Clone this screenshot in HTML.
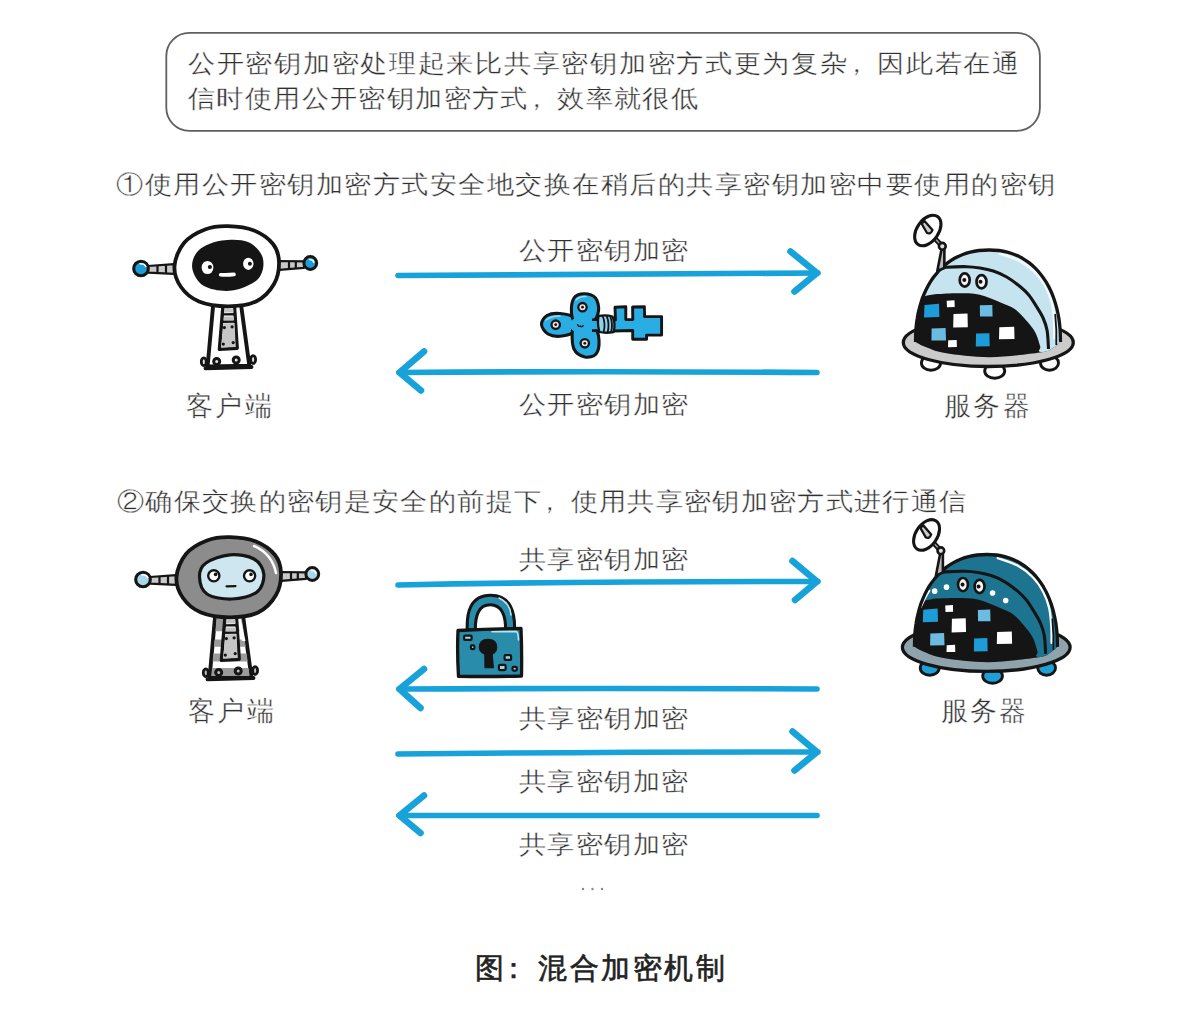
<!DOCTYPE html>
<html><head><meta charset="utf-8">
<style>
html,body{margin:0;padding:0;background:#fff;width:1200px;height:1020px;overflow:hidden;}
body{position:relative;font-family:"Liberation Sans",sans-serif;}
.t{position:absolute;white-space:nowrap;font-size:27px;line-height:27px;letter-spacing:1.4px;color:#303030;-webkit-text-stroke:0.4px #fff;transform:scaleY(0.92);transform-origin:0 0;}
.box{position:absolute;left:165px;top:31.5px;width:872px;height:98.5px;border:1.8px solid #5e5e5e;border-radius:24px;}
svg{position:absolute;left:0;top:0;}
</style></head><body>
<div class="t" style="left:188px;top:52px;letter-spacing:1.72px">公开密钥加密处理起来比共享密钥加密方式更为复杂<span style="position:relative;left:-6px">，</span>因此若在通</div>
<div class="t" style="left:188px;top:87px">信时使用公开密钥加密方式<span style="position:relative;left:-6px">，</span>效率就很低</div>
<div class="t" style="left:116px;top:173px;letter-spacing:1.5px">①使用公开密钥加密方式安全地交换在稍后的共享密钥加密中要使用的密钥</div>
<div class="t" style="left:519px;top:239px">公开密钥加密</div>
<div class="t" style="left:519px;top:393px">公开密钥加密</div>
<div class="t" style="left:186px;top:393px;letter-spacing:2.3px;transform:none">客户端</div>
<div class="t" style="left:944px;top:393px;letter-spacing:2.3px;transform:none">服务器</div>
<div class="t" style="left:117px;top:490px;letter-spacing:1.35px">②确保交换的密钥是安全的前提下<span style="position:relative;left:-6px">，</span>使用共享密钥加密方式进行通信</div>
<div class="t" style="left:519px;top:548px">共享密钥加密</div>
<div class="t" style="left:519px;top:707px">共享密钥加密</div>
<div class="t" style="left:519px;top:770px">共享密钥加密</div>
<div class="t" style="left:519px;top:833px">共享密钥加密</div>
<div class="t" style="left:188px;top:698px;letter-spacing:2.3px;transform:none">客户端</div>
<div class="t" style="left:941px;top:698px;letter-spacing:2.2px;transform:none">服务器</div>
<div class="t" style="left:475px;top:954px;font-size:29px;line-height:29px;font-weight:400;-webkit-text-stroke:0.6px #222;letter-spacing:2.5px;color:#222;transform:none">图<span style="position:relative;left:-8px">：</span>混合加密机制</div>
<svg width="1200" height="1020" viewBox="0 0 1200 1020">
<g fill="none" stroke="#18a2da" stroke-linecap="round" stroke-linejoin="round">
<g stroke-width="5.6">
<path d="M398 275.5 Q600 274 818 273"/>
<path d="M399 372.5 Q600 371 817 372.5"/>
<path d="M398 585 Q600 581 818 581.5"/>
<path d="M399 689 Q600 688 817 689"/>
<path d="M398 754 Q600 752 818 752"/>
<path d="M399 815.5 Q600 816 817 815.5"/>
</g><g stroke-width="6.6">
<path d="M790.5 251.5 L817 273 L794.5 291.5"/>
<path d="M424 351.5 L399.5 372.5 L421 390.5"/>
<path d="M792.5 561 L817 581.5 L795 600"/>
<path d="M424 669 L399.5 689 L420.5 708"/>
<path d="M792.5 731.5 L817 752 L794.5 770.5"/>
<path d="M424 795.5 L399.5 815.5 L420.5 833"/>
</g></g>
<rect x="166.3" y="32.9" width="873.6" height="97.9" rx="23" ry="23" fill="none" stroke="#606060" stroke-width="1.8"/>
<g fill="#888"><circle cx="583" cy="889" r="1.2"/><circle cx="592.5" cy="889" r="1.2"/><circle cx="602" cy="889" r="1.2"/></g>
<g transform="translate(0.00 0.00)">
<ellipse cx="203.8" cy="361.8" rx="2.5" ry="3.9" fill="#e0e0e0" stroke="#151515" stroke-width="2.8"/>
<ellipse cx="253.1" cy="359.6" rx="2.5" ry="3.9" fill="#e0e0e0" stroke="#151515" stroke-width="2.8"/>
<path d="M148.0 266.0 L174.0 264.2 L174.0 273.8 L148.0 272.6Z" fill="#c9c9c9" stroke="#151515" stroke-width="2.2" stroke-linejoin="round"/>
<path d="M157.5 265.3V273 M166 264.8V273.4" stroke="#151515" stroke-width="2.2"/>
<path d="M279.0 261.0 L304.0 261.3 L304.0 267.8 L279.0 269.8Z" fill="#c9c9c9" stroke="#151515" stroke-width="2.2" stroke-linejoin="round"/>
<path d="M289 261.2V269 M295.8 261.3V268.5" stroke="#151515" stroke-width="2.2"/>
<circle cx="141" cy="268.5" r="7.3" fill="#1c9ed8" stroke="#151515" stroke-width="3.1"/>
<path d="M140 263.8 Q144.5 263.5 145.8 266.5" stroke="#fff" stroke-width="1.6" fill="none" stroke-linecap="round"/>
<circle cx="310.3" cy="263" r="6.4" fill="#1c9ed8" stroke="#151515" stroke-width="3"/>
<path d="M309.5 259.6 Q313 259.5 313.8 262.3" stroke="#fff" stroke-width="1.5" fill="none" stroke-linecap="round"/>
<path d="M213.6 300.0 L240.4 300.0 L249.3 365.6 L207.6 366.4Z" fill="#fff" stroke="#151515" stroke-width="3.9" stroke-linejoin="round"/>
<path d="M223.3 302.0 L234.2 302.0 L237.2 348.2 L219.4 349.4Z" fill="#fff" stroke="#151515" stroke-width="3.4" stroke-linejoin="round"/>
<path d="M224.6 308.6 L233.3 308.6 L233.6 312.6 L224.3 312.6Z" fill="#c3c3c3"/>
<path d="M224.1 316.4 L233.8 316.4 L234.1 320.0 L223.8 320.0Z" fill="#c3c3c3"/>
<path d="M222.5 314.4 L235 314.2 M222 321.8 L235.5 321.6" stroke="#151515" stroke-width="2.4"/>
<path d="M223.6 323.2 L234.6 323.0 L235.6 347.0 L221.0 347.6Z" fill="#c6c6c6"/>
<circle cx="224.4" cy="327.6" r="1.6" fill="#151515"/>
<circle cx="232.1" cy="326.8" r="1.6" fill="#151515"/>
<circle cx="223.3" cy="344.1" r="1.6" fill="#151515"/>
<circle cx="233.2" cy="342.6" r="1.6" fill="#151515"/>
<path d="M205.5 368.2 Q228 367.6 251.5 367" stroke="#151515" stroke-width="3.9" stroke-linecap="round" fill="none"/>
<circle cx="216.7" cy="361.4" r="3.0" fill="#e6e6e6" stroke="#151515" stroke-width="3"/>
<circle cx="236.2" cy="360.0" r="3.0" fill="#e6e6e6" stroke="#151515" stroke-width="3"/>
<path d="M174.5 266.0 C175.0 258.7 178.9 249.1 184.0 243.0 C189.1 236.9 197.7 232.3 205.0 229.5 C212.3 226.7 219.8 226.0 228.0 226.2 C236.2 226.4 246.5 227.5 254.0 230.5 C261.5 233.5 268.8 238.8 273.0 244.0 C277.2 249.2 278.8 255.3 279.0 262.0 C279.2 268.7 277.8 277.4 274.0 284.0 C270.2 290.6 263.7 297.8 256.0 301.5 C248.3 305.2 237.5 306.3 228.0 306.3 C218.5 306.3 206.8 304.7 199.0 301.5 C191.2 298.3 185.1 292.9 181.0 287.0 C176.9 281.1 174.0 273.3 174.5 266.0Z" fill="#fff" stroke="#151515" stroke-width="3.8"/>
<path d="M192.2 268.0 C191.4 262.0 194.0 254.6 199.0 250.0 C204.0 245.4 213.8 241.9 222.0 240.6 C230.2 239.3 241.2 239.1 248.0 242.0 C254.8 244.9 261.1 251.8 262.8 258.0 C264.5 264.2 263.1 273.6 258.0 279.0 C252.9 284.4 241.0 289.4 232.0 290.6 C223.0 291.8 210.6 289.8 204.0 286.0 C197.4 282.2 193.0 274.0 192.2 268.0Z" fill="#151515"/>
<ellipse cx="207.5" cy="267.5" rx="5.9" ry="6.6" fill="#fff"/>
<circle cx="209.9" cy="267" r="2.1" fill="#151515"/>
<ellipse cx="248.3" cy="263.8" rx="5.2" ry="6.1" fill="#fff"/>
<circle cx="249.9" cy="263.8" r="2.0" fill="#151515"/>
<path d="M220.6 274.7 Q227 275.2 234 274.4" stroke="#fff" stroke-width="3.6" stroke-linecap="round" fill="none"/>
</g>
<g transform="translate(2.00 311.00)">
<ellipse cx="203.8" cy="361.8" rx="2.5" ry="3.9" fill="#bdbdbd" stroke="#151515" stroke-width="2.8"/>
<ellipse cx="253.1" cy="359.6" rx="2.5" ry="3.9" fill="#bdbdbd" stroke="#151515" stroke-width="2.8"/>
<path d="M148.0 266.0 L174.0 264.2 L174.0 273.8 L148.0 272.6Z" fill="#c9c9c9" stroke="#151515" stroke-width="2.2" stroke-linejoin="round"/>
<path d="M157.5 265.3V273 M166 264.8V273.4" stroke="#151515" stroke-width="2.2"/>
<path d="M279.0 261.0 L304.0 261.3 L304.0 267.8 L279.0 269.8Z" fill="#c9c9c9" stroke="#151515" stroke-width="2.2" stroke-linejoin="round"/>
<path d="M289 261.2V269 M295.8 261.3V268.5" stroke="#151515" stroke-width="2.2"/>
<circle cx="141" cy="268.5" r="7.3" fill="#a9d6ea" stroke="#151515" stroke-width="3.1"/>
<path d="M140 263.8 Q144.5 263.5 145.8 266.5" stroke="#fff" stroke-width="1.6" fill="none" stroke-linecap="round"/>
<circle cx="310.3" cy="263" r="6.4" fill="#a9d6ea" stroke="#151515" stroke-width="3"/>
<path d="M309.5 259.6 Q313 259.5 313.8 262.3" stroke="#fff" stroke-width="1.5" fill="none" stroke-linecap="round"/>
<path d="M213.6 300.0 L240.4 300.0 L249.3 365.6 L207.6 366.4Z" fill="#fff" stroke="#151515" stroke-width="3.9" stroke-linejoin="round"/>
<path d="M215.2 300.0 L238.8 300.0 L241.6 320.3 L213.4 320.3Z" fill="#9b9b9b"/>
<path d="M212.6 328.4 L242.7 328.4 L243.7 335.8 L212.0 335.8Z" fill="#9b9b9b"/>
<path d="M211.4 342.4 L244.6 342.4 L245.7 350.5 L210.6 350.5Z" fill="#9b9b9b"/>
<path d="M210.0 357.0 L246.5 357.0 L247.6 365.0 L209.3 365.0Z" fill="#9b9b9b"/>
<path d="M234 304 L238 304 L243.5 330 L240 330Z" fill="#fff"/>
<path d="M223.3 302.0 L234.2 302.0 L237.2 348.2 L219.4 349.4Z" fill="#fff" stroke="#151515" stroke-width="3.4" stroke-linejoin="round"/>
<path d="M224.6 308.6 L233.3 308.6 L233.6 312.6 L224.3 312.6Z" fill="#c3c3c3"/>
<path d="M224.1 316.4 L233.8 316.4 L234.1 320.0 L223.8 320.0Z" fill="#c3c3c3"/>
<path d="M222.5 314.4 L235 314.2 M222 321.8 L235.5 321.6" stroke="#151515" stroke-width="2.4"/>
<path d="M223.6 323.2 L234.6 323.0 L235.6 347.0 L221.0 347.6Z" fill="#c6c6c6"/>
<circle cx="224.4" cy="327.6" r="1.6" fill="#151515"/>
<circle cx="232.1" cy="326.8" r="1.6" fill="#151515"/>
<circle cx="223.3" cy="344.1" r="1.6" fill="#151515"/>
<circle cx="233.2" cy="342.6" r="1.6" fill="#151515"/>
<path d="M205.5 368.2 Q228 367.6 251.5 367" stroke="#151515" stroke-width="3.9" stroke-linecap="round" fill="none"/>
<circle cx="216.7" cy="361.4" r="3.0" fill="#bdbdbd" stroke="#151515" stroke-width="3"/>
<circle cx="236.2" cy="360.0" r="3.0" fill="#bdbdbd" stroke="#151515" stroke-width="3"/>
<path d="M174.5 266.0 C175.0 258.7 178.9 249.1 184.0 243.0 C189.1 236.9 197.7 232.3 205.0 229.5 C212.3 226.7 219.8 226.0 228.0 226.2 C236.2 226.4 246.5 227.5 254.0 230.5 C261.5 233.5 268.8 238.8 273.0 244.0 C277.2 249.2 278.8 255.3 279.0 262.0 C279.2 268.7 277.8 277.4 274.0 284.0 C270.2 290.6 263.7 297.8 256.0 301.5 C248.3 305.2 237.5 306.3 228.0 306.3 C218.5 306.3 206.8 304.7 199.0 301.5 C191.2 298.3 185.1 292.9 181.0 287.0 C176.9 281.1 174.0 273.3 174.5 266.0Z" fill="#8c8c8c" stroke="#151515" stroke-width="3.8"/>
<path d="M252 235 Q270 243 274 262" stroke="#fff" stroke-width="2.5" fill="none" stroke-linecap="round"/>
<path d="M197.5 266.0 C197.3 260.8 198.9 255.7 204.0 252.0 C209.1 248.3 220.0 244.5 228.0 243.8 C236.0 243.1 246.4 244.8 252.0 248.0 C257.6 251.2 261.3 257.5 261.8 263.0 C262.3 268.5 260.3 276.8 255.0 281.0 C249.7 285.2 238.3 287.7 230.0 288.0 C221.7 288.3 210.4 286.7 205.0 283.0 C199.6 279.3 197.7 271.2 197.5 266.0Z" fill="#cde6ef" stroke="#151515" stroke-width="3.2"/>
<circle cx="211.8" cy="264.8" r="5.6" fill="#fff" stroke="#151515" stroke-width="2.4"/>
<circle cx="213.6" cy="263.4" r="1.8" fill="#151515"/>
<circle cx="247.6" cy="264.8" r="5.6" fill="#fff" stroke="#151515" stroke-width="2.4"/>
<circle cx="249" cy="263.4" r="1.8" fill="#151515"/>
<path d="M224.5 275.3 L233.5 275.1" stroke="#151515" stroke-width="2.2" stroke-linecap="round"/>
</g>
<g transform="translate(0 0)">
<ellipse cx="931.0" cy="363.0" rx="9.6" ry="7.2" fill="#fff" stroke="#151515" stroke-width="2.9"/>
<ellipse cx="994.7" cy="371.0" rx="10.0" ry="7.2" fill="#fff" stroke="#151515" stroke-width="2.9"/>
<ellipse cx="1049.5" cy="363.0" rx="9.0" ry="7.2" fill="#fff" stroke="#151515" stroke-width="2.9"/>
<ellipse cx="988.3" cy="342.5" rx="85" ry="24" fill="#cbcbcb" stroke="#151515" stroke-width="3.3"/>
<clipPath id="dome1"><path d="M915.5 342.0 C915.6 339.9 915.6 333.3 915.9 329.4 C916.2 325.5 916.6 322.0 917.2 318.5 C917.7 315.0 918.4 311.7 919.3 308.4 C920.1 305.1 921.1 302.0 922.1 298.9 C923.2 295.9 924.5 293.0 925.8 290.2 C927.2 287.4 928.6 284.7 930.2 282.1 C931.8 279.6 933.5 277.1 935.4 274.9 C937.2 272.6 939.1 270.4 941.2 268.4 C943.2 266.5 945.3 264.6 947.6 262.9 C949.8 261.2 952.2 259.7 954.6 258.3 C957.0 257.0 959.5 255.7 962.2 254.7 C964.8 253.7 967.4 252.8 970.3 252.1 C973.1 251.4 975.8 250.9 979.0 250.5 C982.1 250.2 985.7 250.0 989.0 250.0 C992.3 250.0 995.7 250.2 998.8 250.5 C1001.8 250.9 1004.5 251.4 1007.2 252.1 C1010.0 252.8 1012.6 253.7 1015.1 254.7 C1017.7 255.7 1020.1 257.0 1022.5 258.3 C1024.8 259.7 1027.1 261.2 1029.3 262.9 C1031.5 264.6 1033.6 266.5 1035.5 268.4 C1037.5 270.4 1039.4 272.6 1041.2 274.9 C1042.9 277.1 1044.6 279.6 1046.2 282.1 C1047.7 284.7 1049.2 287.4 1050.5 290.2 C1051.8 293.0 1053.0 295.9 1054.0 298.9 C1055.1 302.0 1056.0 305.1 1056.8 308.4 C1057.6 311.7 1058.3 315.0 1058.9 318.5 C1059.4 322.0 1059.8 325.5 1060.1 329.4 C1060.4 333.3 1060.4 339.9 1060.5 342.0 L1060.5 342.0 C1059.1 343.1 1055.4 346.7 1052.0 348.5 C1048.6 350.3 1050.3 351.1 1040.0 352.5 C1029.7 353.9 1005.8 357.1 990.0 357.2 C974.2 357.3 955.9 354.8 945.0 353.0 C934.1 351.2 929.3 348.3 924.4 346.5 C919.5 344.7 917.0 342.8 915.5 342.0Z"/></clipPath>
<path d="M915.5 342.0 C915.6 339.9 915.6 333.3 915.9 329.4 C916.2 325.5 916.6 322.0 917.2 318.5 C917.7 315.0 918.4 311.7 919.3 308.4 C920.1 305.1 921.1 302.0 922.1 298.9 C923.2 295.9 924.5 293.0 925.8 290.2 C927.2 287.4 928.6 284.7 930.2 282.1 C931.8 279.6 933.5 277.1 935.4 274.9 C937.2 272.6 939.1 270.4 941.2 268.4 C943.2 266.5 945.3 264.6 947.6 262.9 C949.8 261.2 952.2 259.7 954.6 258.3 C957.0 257.0 959.5 255.7 962.2 254.7 C964.8 253.7 967.4 252.8 970.3 252.1 C973.1 251.4 975.8 250.9 979.0 250.5 C982.1 250.2 985.7 250.0 989.0 250.0 C992.3 250.0 995.7 250.2 998.8 250.5 C1001.8 250.9 1004.5 251.4 1007.2 252.1 C1010.0 252.8 1012.6 253.7 1015.1 254.7 C1017.7 255.7 1020.1 257.0 1022.5 258.3 C1024.8 259.7 1027.1 261.2 1029.3 262.9 C1031.5 264.6 1033.6 266.5 1035.5 268.4 C1037.5 270.4 1039.4 272.6 1041.2 274.9 C1042.9 277.1 1044.6 279.6 1046.2 282.1 C1047.7 284.7 1049.2 287.4 1050.5 290.2 C1051.8 293.0 1053.0 295.9 1054.0 298.9 C1055.1 302.0 1056.0 305.1 1056.8 308.4 C1057.6 311.7 1058.3 315.0 1058.9 318.5 C1059.4 322.0 1059.8 325.5 1060.1 329.4 C1060.4 333.3 1060.4 339.9 1060.5 342.0 L1060.5 342.0 C1059.1 343.1 1055.4 346.7 1052.0 348.5 C1048.6 350.3 1050.3 351.1 1040.0 352.5 C1029.7 353.9 1005.8 357.1 990.0 357.2 C974.2 357.3 955.9 354.8 945.0 353.0 C934.1 351.2 929.3 348.3 924.4 346.5 C919.5 344.7 917.0 342.8 915.5 342.0Z" fill="#151515"/>
<path d="M905 240 L1070 240 L1070.0 352.0 C1065.2 352.0 1046.0 352.9 1041.0 352.0 C1036.0 351.1 1041.2 349.6 1040.2 346.3 C1039.2 343.1 1037.6 336.8 1035.3 332.5 C1033.0 328.2 1029.9 324.7 1026.5 320.8 C1023.1 316.9 1019.1 312.1 1014.7 309.0 C1010.3 305.9 1005.8 304.6 1000.0 302.2 C994.2 299.8 986.7 296.2 979.7 294.7 C972.8 293.2 964.3 293.5 958.3 293.3 C952.3 293.1 948.2 293.5 943.8 293.7 C939.3 293.9 935.9 294.1 931.7 294.7 C927.5 295.3 923.0 296.8 918.5 297.5 C914.0 298.2 907.2 298.8 905.0 299.0Z" fill="#c6e4ef" clip-path="url(#dome1)"/>
<path d="M1000.0 253.5 C1003.3 254.8 1014.0 257.8 1020.0 261.0 C1026.0 264.2 1031.7 268.7 1036.0 273.0 C1040.3 277.3 1043.3 282.0 1046.0 287.0 C1048.7 292.0 1050.6 297.2 1052.0 303.0 C1053.4 308.8 1053.9 316.2 1054.3 322.0 C1054.7 327.8 1054.5 335.3 1054.5 338.0" fill="none" stroke="#fff" stroke-width="3" stroke-linecap="round" opacity="0.75"/>
<path d="M1055.2 314 Q1056.8 330 1056.3 345" stroke="#151515" stroke-width="1.8" fill="none"/>
<path d="M941.0 268.3 C942.0 268.1 942.4 267.6 946.7 267.3 C951.0 267.0 961.2 266.6 966.7 266.7 C972.2 266.8 975.6 267.3 980.0 268.0 C984.4 268.7 988.8 269.5 993.3 271.0 C997.8 272.5 1002.2 274.4 1006.7 277.0 C1011.2 279.6 1016.3 283.5 1020.0 286.5 C1023.7 289.5 1026.0 291.7 1028.8 295.0 C1031.5 298.3 1034.1 302.7 1036.5 306.5 C1038.9 310.3 1041.3 314.0 1043.1 318.0 C1044.9 322.0 1046.2 325.4 1047.1 330.6 C1048.0 335.8 1048.3 345.9 1048.5 349.0" fill="none" stroke="#151515" stroke-width="3.1"/>
<path d="M915.5 342.0 C915.6 339.9 915.6 333.3 915.9 329.4 C916.2 325.5 916.6 322.0 917.2 318.5 C917.7 315.0 918.4 311.7 919.3 308.4 C920.1 305.1 921.1 302.0 922.1 298.9 C923.2 295.9 924.5 293.0 925.8 290.2 C927.2 287.4 928.6 284.7 930.2 282.1 C931.8 279.6 933.5 277.1 935.4 274.9 C937.2 272.6 939.1 270.4 941.2 268.4 C943.2 266.5 945.3 264.6 947.6 262.9 C949.8 261.2 952.2 259.7 954.6 258.3 C957.0 257.0 959.5 255.7 962.2 254.7 C964.8 253.7 967.4 252.8 970.3 252.1 C973.1 251.4 975.8 250.9 979.0 250.5 C982.1 250.2 985.7 250.0 989.0 250.0 C992.3 250.0 995.7 250.2 998.8 250.5 C1001.8 250.9 1004.5 251.4 1007.2 252.1 C1010.0 252.8 1012.6 253.7 1015.1 254.7 C1017.7 255.7 1020.1 257.0 1022.5 258.3 C1024.8 259.7 1027.1 261.2 1029.3 262.9 C1031.5 264.6 1033.6 266.5 1035.5 268.4 C1037.5 270.4 1039.4 272.6 1041.2 274.9 C1042.9 277.1 1044.6 279.6 1046.2 282.1 C1047.7 284.7 1049.2 287.4 1050.5 290.2 C1051.8 293.0 1053.0 295.9 1054.0 298.9 C1055.1 302.0 1056.0 305.1 1056.8 308.4 C1057.6 311.7 1058.3 315.0 1058.9 318.5 C1059.4 322.0 1059.8 325.5 1060.1 329.4 C1060.4 333.3 1060.4 339.9 1060.5 342.0" fill="none" stroke="#151515" stroke-width="3.3" stroke-linejoin="round"/>
<ellipse cx="964.7" cy="280.0" rx="5.0" ry="6.6" fill="#f4f4f4" stroke="#151515" stroke-width="2.7"/>
<circle cx="964.3" cy="280.0" r="2.0" fill="#151515"/>
<ellipse cx="981.5" cy="281.8" rx="5.0" ry="6.6" fill="#f4f4f4" stroke="#151515" stroke-width="2.7"/>
<circle cx="980.5" cy="281.8" r="2.0" fill="#151515"/>
<path d="M924.5 305.0 L939.0 303.8 L939.4 317.0 L924.0 317.5Z" fill="#1d9dd8"/>
<path d="M946.7 300.8 L954.5 300.3 L954.7 307.0 L947.0 307.3Z" fill="#fff"/>
<path d="M953.5 314.0 L967.5 313.4 L967.8 327.3 L953.2 327.6Z" fill="#fff"/>
<path d="M979.8 305.2 L992.3 304.9 L992.6 316.4 L980.0 316.6Z" fill="#6cbbe0"/>
<path d="M931.6 328.6 L945.6 328.1 L946.0 340.4 L931.4 340.6Z" fill="#6cbbe0"/>
<path d="M948.2 340.3 L956.7 340.0 L956.9 347.0 L948.0 347.2Z" fill="#fff"/>
<path d="M976.0 333.6 L989.4 333.2 L989.7 346.3 L975.8 346.5Z" fill="#1d9dd8"/>
<path d="M999.3 327.2 L1014.2 326.8 L1014.5 339.0 L999.0 339.2Z" fill="#fff"/>
<path d="M937.3 271 L941.6 249 L944.4 249.5 L944.3 268Z" fill="#b8b8b8" stroke="#151515" stroke-width="2.6" stroke-linejoin="round"/>
<path d="M934 237.5 L942 246" stroke="#151515" stroke-width="5" stroke-linecap="round"/>
<path d="M935 238.5 L941 245" stroke="#aaa" stroke-width="1.2"/>
<circle cx="942.3" cy="246.3" r="3.4" fill="#ddd" stroke="#151515" stroke-width="2.6"/>
<ellipse cx="927.8" cy="230.5" rx="17" ry="10.8" transform="rotate(-55 927.8 230.5)" fill="#fff" stroke="#151515" stroke-width="3.1"/>
<path d="M921.5 223.5 L924.5 221 L932.5 230 Q931 234.5 927 233 Z" fill="#ccc" stroke="#151515" stroke-width="2.3" stroke-linejoin="round"/>
</g>
<g transform="matrix(0.9867 0 0 1.004 11.1 303.5)">
<ellipse cx="931.0" cy="363.0" rx="9.6" ry="7.2" fill="#1ea0d6" stroke="#151515" stroke-width="2.9"/>
<ellipse cx="994.7" cy="371.0" rx="10.0" ry="7.2" fill="#1ea0d6" stroke="#151515" stroke-width="2.9"/>
<ellipse cx="1049.5" cy="363.0" rx="9.0" ry="7.2" fill="#1ea0d6" stroke="#151515" stroke-width="2.9"/>
<ellipse cx="988.3" cy="342.5" rx="85" ry="24" fill="#8fa3ad" stroke="#151515" stroke-width="3.3"/>
<clipPath id="dome2"><path d="M915.5 342.0 C915.6 339.9 915.6 333.3 915.9 329.4 C916.2 325.5 916.6 322.0 917.2 318.5 C917.7 315.0 918.4 311.7 919.3 308.4 C920.1 305.1 921.1 302.0 922.1 298.9 C923.2 295.9 924.5 293.0 925.8 290.2 C927.2 287.4 928.6 284.7 930.2 282.1 C931.8 279.6 933.5 277.1 935.4 274.9 C937.2 272.6 939.1 270.4 941.2 268.4 C943.2 266.5 945.3 264.6 947.6 262.9 C949.8 261.2 952.2 259.7 954.6 258.3 C957.0 257.0 959.5 255.7 962.2 254.7 C964.8 253.7 967.4 252.8 970.3 252.1 C973.1 251.4 975.8 250.9 979.0 250.5 C982.1 250.2 985.7 250.0 989.0 250.0 C992.3 250.0 995.7 250.2 998.8 250.5 C1001.8 250.9 1004.5 251.4 1007.2 252.1 C1010.0 252.8 1012.6 253.7 1015.1 254.7 C1017.7 255.7 1020.1 257.0 1022.5 258.3 C1024.8 259.7 1027.1 261.2 1029.3 262.9 C1031.5 264.6 1033.6 266.5 1035.5 268.4 C1037.5 270.4 1039.4 272.6 1041.2 274.9 C1042.9 277.1 1044.6 279.6 1046.2 282.1 C1047.7 284.7 1049.2 287.4 1050.5 290.2 C1051.8 293.0 1053.0 295.9 1054.0 298.9 C1055.1 302.0 1056.0 305.1 1056.8 308.4 C1057.6 311.7 1058.3 315.0 1058.9 318.5 C1059.4 322.0 1059.8 325.5 1060.1 329.4 C1060.4 333.3 1060.4 339.9 1060.5 342.0 L1060.5 342.0 C1059.1 343.1 1055.4 346.7 1052.0 348.5 C1048.6 350.3 1050.3 351.1 1040.0 352.5 C1029.7 353.9 1005.8 357.1 990.0 357.2 C974.2 357.3 955.9 354.8 945.0 353.0 C934.1 351.2 929.3 348.3 924.4 346.5 C919.5 344.7 917.0 342.8 915.5 342.0Z"/></clipPath>
<path d="M915.5 342.0 C915.6 339.9 915.6 333.3 915.9 329.4 C916.2 325.5 916.6 322.0 917.2 318.5 C917.7 315.0 918.4 311.7 919.3 308.4 C920.1 305.1 921.1 302.0 922.1 298.9 C923.2 295.9 924.5 293.0 925.8 290.2 C927.2 287.4 928.6 284.7 930.2 282.1 C931.8 279.6 933.5 277.1 935.4 274.9 C937.2 272.6 939.1 270.4 941.2 268.4 C943.2 266.5 945.3 264.6 947.6 262.9 C949.8 261.2 952.2 259.7 954.6 258.3 C957.0 257.0 959.5 255.7 962.2 254.7 C964.8 253.7 967.4 252.8 970.3 252.1 C973.1 251.4 975.8 250.9 979.0 250.5 C982.1 250.2 985.7 250.0 989.0 250.0 C992.3 250.0 995.7 250.2 998.8 250.5 C1001.8 250.9 1004.5 251.4 1007.2 252.1 C1010.0 252.8 1012.6 253.7 1015.1 254.7 C1017.7 255.7 1020.1 257.0 1022.5 258.3 C1024.8 259.7 1027.1 261.2 1029.3 262.9 C1031.5 264.6 1033.6 266.5 1035.5 268.4 C1037.5 270.4 1039.4 272.6 1041.2 274.9 C1042.9 277.1 1044.6 279.6 1046.2 282.1 C1047.7 284.7 1049.2 287.4 1050.5 290.2 C1051.8 293.0 1053.0 295.9 1054.0 298.9 C1055.1 302.0 1056.0 305.1 1056.8 308.4 C1057.6 311.7 1058.3 315.0 1058.9 318.5 C1059.4 322.0 1059.8 325.5 1060.1 329.4 C1060.4 333.3 1060.4 339.9 1060.5 342.0 L1060.5 342.0 C1059.1 343.1 1055.4 346.7 1052.0 348.5 C1048.6 350.3 1050.3 351.1 1040.0 352.5 C1029.7 353.9 1005.8 357.1 990.0 357.2 C974.2 357.3 955.9 354.8 945.0 353.0 C934.1 351.2 929.3 348.3 924.4 346.5 C919.5 344.7 917.0 342.8 915.5 342.0Z" fill="#151515"/>
<path d="M905 240 L1070 240 L1070.0 352.0 C1065.2 352.0 1046.0 352.9 1041.0 352.0 C1036.0 351.1 1041.2 349.6 1040.2 346.3 C1039.2 343.1 1037.6 336.8 1035.3 332.5 C1033.0 328.2 1029.9 324.7 1026.5 320.8 C1023.1 316.9 1019.1 312.1 1014.7 309.0 C1010.3 305.9 1005.8 304.6 1000.0 302.2 C994.2 299.8 986.7 296.2 979.7 294.7 C972.8 293.2 964.3 293.5 958.3 293.3 C952.3 293.1 948.2 293.5 943.8 293.7 C939.3 293.9 935.9 294.1 931.7 294.7 C927.5 295.3 923.0 296.8 918.5 297.5 C914.0 298.2 907.2 298.8 905.0 299.0Z" fill="#1d7491" clip-path="url(#dome2)"/>
<path d="M1000.0 253.5 C1003.3 254.8 1014.0 257.8 1020.0 261.0 C1026.0 264.2 1031.7 268.7 1036.0 273.0 C1040.3 277.3 1043.3 282.0 1046.0 287.0 C1048.7 292.0 1050.6 297.2 1052.0 303.0 C1053.4 308.8 1053.9 316.2 1054.3 322.0 C1054.7 327.8 1054.5 335.3 1054.5 338.0" fill="none" stroke="#fff" stroke-width="2.4" stroke-linecap="round" opacity="1"/>
<path d="M922 302 Q926 293 930.5 286" fill="none" stroke="#fff" stroke-width="2.2" stroke-linecap="round"/>
<path d="M1055.2 314 Q1056.8 330 1056.3 345" stroke="#151515" stroke-width="1.8" fill="none"/>
<path d="M941.0 268.3 C942.0 268.1 942.4 267.6 946.7 267.3 C951.0 267.0 961.2 266.6 966.7 266.7 C972.2 266.8 975.6 267.3 980.0 268.0 C984.4 268.7 988.8 269.5 993.3 271.0 C997.8 272.5 1002.2 274.4 1006.7 277.0 C1011.2 279.6 1016.3 283.5 1020.0 286.5 C1023.7 289.5 1026.0 291.7 1028.8 295.0 C1031.5 298.3 1034.1 302.7 1036.5 306.5 C1038.9 310.3 1041.3 314.0 1043.1 318.0 C1044.9 322.0 1046.2 325.4 1047.1 330.6 C1048.0 335.8 1048.3 345.9 1048.5 349.0" fill="none" stroke="#151515" stroke-width="3.1"/>
<path d="M915.5 342.0 C915.6 339.9 915.6 333.3 915.9 329.4 C916.2 325.5 916.6 322.0 917.2 318.5 C917.7 315.0 918.4 311.7 919.3 308.4 C920.1 305.1 921.1 302.0 922.1 298.9 C923.2 295.9 924.5 293.0 925.8 290.2 C927.2 287.4 928.6 284.7 930.2 282.1 C931.8 279.6 933.5 277.1 935.4 274.9 C937.2 272.6 939.1 270.4 941.2 268.4 C943.2 266.5 945.3 264.6 947.6 262.9 C949.8 261.2 952.2 259.7 954.6 258.3 C957.0 257.0 959.5 255.7 962.2 254.7 C964.8 253.7 967.4 252.8 970.3 252.1 C973.1 251.4 975.8 250.9 979.0 250.5 C982.1 250.2 985.7 250.0 989.0 250.0 C992.3 250.0 995.7 250.2 998.8 250.5 C1001.8 250.9 1004.5 251.4 1007.2 252.1 C1010.0 252.8 1012.6 253.7 1015.1 254.7 C1017.7 255.7 1020.1 257.0 1022.5 258.3 C1024.8 259.7 1027.1 261.2 1029.3 262.9 C1031.5 264.6 1033.6 266.5 1035.5 268.4 C1037.5 270.4 1039.4 272.6 1041.2 274.9 C1042.9 277.1 1044.6 279.6 1046.2 282.1 C1047.7 284.7 1049.2 287.4 1050.5 290.2 C1051.8 293.0 1053.0 295.9 1054.0 298.9 C1055.1 302.0 1056.0 305.1 1056.8 308.4 C1057.6 311.7 1058.3 315.0 1058.9 318.5 C1059.4 322.0 1059.8 325.5 1060.1 329.4 C1060.4 333.3 1060.4 339.9 1060.5 342.0" fill="none" stroke="#151515" stroke-width="3.3" stroke-linejoin="round"/>
<circle cx="936.0" cy="286.5" r="2.8" fill="#fff"/>
<circle cx="948.0" cy="282.5" r="2.8" fill="#fff"/>
<circle cx="994.7" cy="288.3" r="2.8" fill="#fff"/>
<circle cx="1008.0" cy="295.8" r="2.8" fill="#fff"/>
<ellipse cx="964.7" cy="280.0" rx="5.0" ry="6.6" fill="#f4f4f4" stroke="#151515" stroke-width="2.7"/>
<circle cx="964.3" cy="280.0" r="2.0" fill="#151515"/>
<ellipse cx="981.5" cy="281.8" rx="5.0" ry="6.6" fill="#f4f4f4" stroke="#151515" stroke-width="2.7"/>
<circle cx="980.5" cy="281.8" r="2.0" fill="#151515"/>
<path d="M924.5 305.0 L939.0 303.8 L939.4 317.0 L924.0 317.5Z" fill="#1d9dd8"/>
<path d="M946.7 300.8 L954.5 300.3 L954.7 307.0 L947.0 307.3Z" fill="#fff"/>
<path d="M953.5 314.0 L967.5 313.4 L967.8 327.3 L953.2 327.6Z" fill="#fff"/>
<path d="M979.8 305.2 L992.3 304.9 L992.6 316.4 L980.0 316.6Z" fill="#6cbbe0"/>
<path d="M931.6 328.6 L945.6 328.1 L946.0 340.4 L931.4 340.6Z" fill="#6cbbe0"/>
<path d="M948.2 340.3 L956.7 340.0 L956.9 347.0 L948.0 347.2Z" fill="#fff"/>
<path d="M976.0 333.6 L989.4 333.2 L989.7 346.3 L975.8 346.5Z" fill="#1d9dd8"/>
<path d="M999.3 327.2 L1014.2 326.8 L1014.5 339.0 L999.0 339.2Z" fill="#fff"/>
<path d="M937.3 271 L941.6 249 L944.4 249.5 L944.3 268Z" fill="#b8b8b8" stroke="#151515" stroke-width="2.6" stroke-linejoin="round"/>
<path d="M934 237.5 L942 246" stroke="#151515" stroke-width="5" stroke-linecap="round"/>
<path d="M935 238.5 L941 245" stroke="#aaa" stroke-width="1.2"/>
<circle cx="942.3" cy="246.3" r="3.4" fill="#ddd" stroke="#151515" stroke-width="2.6"/>
<ellipse cx="927.8" cy="230.5" rx="17" ry="10.8" transform="rotate(-55 927.8 230.5)" fill="#fff" stroke="#151515" stroke-width="3.1"/>
<path d="M921.5 223.5 L924.5 221 L932.5 230 Q931 234.5 927 233 Z" fill="#ccc" stroke="#151515" stroke-width="2.3" stroke-linejoin="round"/>
</g>
<path d="M590 319.5 L615.5 320 L615 307.2 L625.8 306.8 L625.8 319.6 L632.8 319.6 L632.6 307 L644.4 306.7 L644.6 316.6 L661.6 316.6 L661.6 335.1 L646.6 335.1 L646.6 339.2 L632.7 339.2 L632.7 330.5 L614 331 L590 330.5Z" fill="#2aade2" stroke="#151515" stroke-width="2.9" stroke-linejoin="round"/>
<path d="M541.5 324.5 C541.3 321.4 543.9 317.3 547.0 315.5 C550.1 313.7 555.3 313.1 560.0 313.5 C564.7 313.9 572.2 315.2 575.0 318.0 C577.8 320.8 579.2 327.0 577.0 330.0 C574.8 333.0 566.8 335.3 562.0 336.0 C557.2 336.7 551.4 335.9 548.0 334.0 C544.6 332.1 541.7 327.6 541.5 324.5Z" fill="#2aade2" stroke="#151515" stroke-width="3.1"/>
<path d="M571.5 313.0 C571.2 308.8 571.9 301.2 574.0 298.0 C576.1 294.8 580.4 293.8 584.0 293.8 C587.6 293.8 593.1 295.1 595.5 298.0 C597.9 300.9 599.1 306.9 598.5 311.0 C597.9 315.1 595.8 320.5 592.0 322.5 C588.2 324.5 579.4 324.6 576.0 323.0 C572.6 321.4 571.8 317.2 571.5 313.0Z" fill="#2aade2" stroke="#151515" stroke-width="3.1"/>
<path d="M572.5 330.0 C573.2 326.2 574.4 326.5 578.0 326.0 C581.6 325.5 590.5 324.7 594.0 327.0 C597.5 329.3 598.7 335.5 599.0 340.0 C599.3 344.5 598.3 351.2 596.0 354.0 C593.7 356.8 588.7 357.8 585.0 357.0 C581.3 356.2 576.1 353.5 574.0 349.0 C571.9 344.5 571.8 333.8 572.5 330.0Z" fill="#2aade2" stroke="#151515" stroke-width="3.1"/>
<ellipse cx="582" cy="325" rx="12" ry="8.5" fill="#2aade2"/>
<path d="M586 320.8 L600 320.8 L600 329.6 L586 329.6Z" fill="#2aade2"/>
<path d="M592 319.8 L600 319.6 M592 330.6 L600 330.8" stroke="#151515" stroke-width="2.6"/>
<path d="M598.5 316 Q606 314.5 612.5 316.5 Q616 324 613.5 332 Q606 333.5 599.5 332 Q597 324 598.5 316Z" fill="#8fd2ee" stroke="#151515" stroke-width="2.3"/>
<path d="M602.5 315.5 Q606 324 603.5 332.5 M606.5 315.3 Q610 324 607.5 332.8 M610 315.8 Q613.5 324 611 332.5" fill="none" stroke="#151515" stroke-width="1.8"/>
<path d="M546 320 Q552 315.5 560 316" fill="none" stroke="#9ad9f2" stroke-width="1.5" stroke-linecap="round"/>
<path d="M576 300 Q580 296 586 296.5" fill="none" stroke="#9ad9f2" stroke-width="1.5" stroke-linecap="round"/>
<circle cx="555.7" cy="324.7" r="4.2" fill="#e6e6e6" stroke="#151515" stroke-width="2.3"/>
<circle cx="555.7" cy="324.7" r="1.4" fill="#151515"/>
<circle cx="582.5" cy="307.2" r="4.2" fill="#e6e6e6" stroke="#151515" stroke-width="2.3"/>
<circle cx="582.5" cy="307.2" r="1.4" fill="#151515"/>
<circle cx="584.8" cy="343.3" r="4.2" fill="#e6e6e6" stroke="#151515" stroke-width="2.3"/>
<circle cx="584.8" cy="343.3" r="1.4" fill="#151515"/>
<path d="M577.5 324 Q578 327.5 580.3 326 Q582 328 583.5 325" fill="none" stroke="#151515" stroke-width="1.3"/>
<path d="M467.3 630 C466.5 613 470 595.5 490.5 595.3 C511 595.2 515 613 514.6 630 L505.6 630 C505.8 616 502 604.8 490.2 604.8 C478.5 604.8 475.2 616 475.3 630Z" fill="#2a8cab" stroke="#151515" stroke-width="3.1" stroke-linejoin="round"/>
<path d="M499 598 Q510 603 511 615" fill="none" stroke="#bfe3ee" stroke-width="1.6" stroke-linecap="round"/>
<path d="M458 630.5 Q490 629 521 628.4 Q522 652 521.5 676 Q490 676.8 458.5 676.3 Q457 652 458 630.5Z" fill="#2a8cab" stroke="#151515" stroke-width="3.3" stroke-linejoin="round"/>
<path d="M492 631.8 L516 631.5 Q518.3 632 518.5 640" fill="none" stroke="#bfe3ee" stroke-width="1.6" stroke-linecap="round"/>
<path d="M478.8 647.5 Q478.8 638.8 488 638.8 Q497.3 638.8 497.3 647.5 Q497.3 652 492.8 654.5 L494 668.3 L484.4 668.3 L484.2 654.5 Q478.8 652 478.8 647.5Z" fill="#151515"/>
<rect x="464.1" y="635.6" width="7.5" height="4.3" rx="1" fill="#a9d3e0" stroke="#151515" stroke-width="2.2"/>
<rect x="470.9" y="645.4" width="3.5" height="3.7" rx="1" fill="#a9d3e0" stroke="#151515" stroke-width="2.2"/>
<rect x="504.6" y="655.2" width="6.5" height="4.7" rx="1" fill="#a9d3e0" stroke="#151515" stroke-width="2.2"/>
<rect x="498.9" y="664.9" width="6.7" height="5.2" rx="1" fill="#a9d3e0" stroke="#151515" stroke-width="2.2"/>
<rect x="512.5" y="666.9" width="4.3" height="3.7" rx="1" fill="#a9d3e0" stroke="#151515" stroke-width="2.2"/>
</svg>
</body></html>
